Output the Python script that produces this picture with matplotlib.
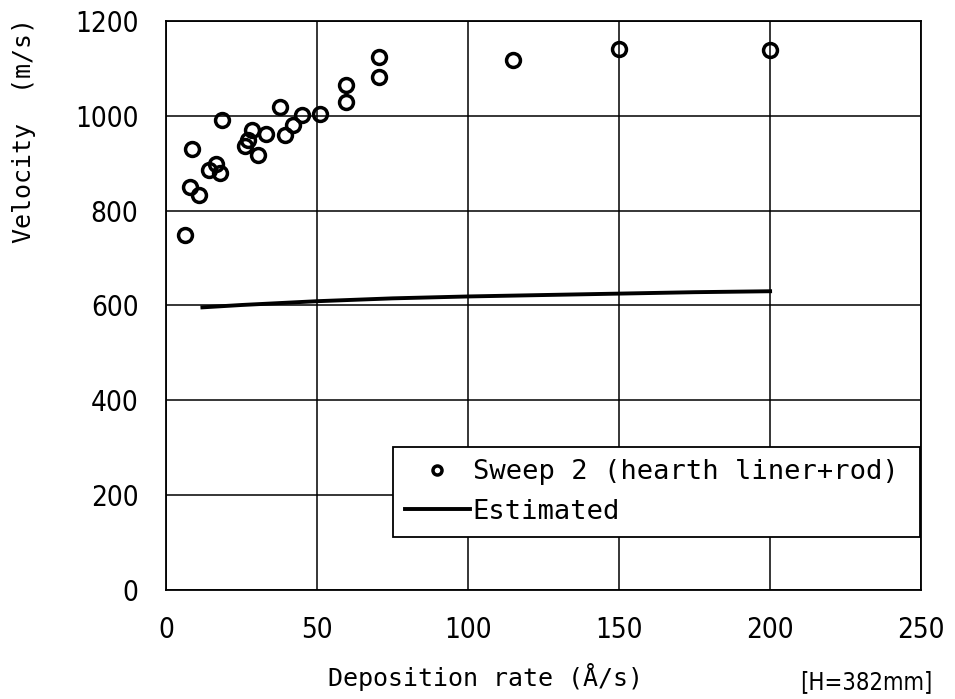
import matplotlib
matplotlib.use("Agg")
import matplotlib.pyplot as plt
from matplotlib import font_manager

# Data
sweep_x = [6.2, 7.8, 10.9, 8.7, 14.2, 16.6, 17.9, 18.5, 26.1, 27.2, 28.5, 30.5, 32.9,
           37.6, 39.4, 41.9, 45.1, 50.9, 59.4, 59.4, 70.5, 70.5, 115, 150, 200]
sweep_y = [748, 850, 833, 929, 886, 898, 880, 991, 937, 950, 971, 917, 962,
           1019, 960, 980, 1002, 1003, 1030, 1066, 1081, 1124, 1117, 1140, 1138]
est_x = [12, 25, 50, 75, 100, 125, 150, 175, 200]
est_y = [596, 601, 609, 615, 619, 622, 625, 628, 630]
xticks = [0, 50, 100, 150, 200, 250]
yticks = [0, 200, 400, 600, 800, 1000, 1200]

names = {f.name for f in font_manager.fontManager.ttflist}
mono = [f for f in ['DejaVu Sans Mono', 'Liberation Mono', 'DejaVu Sans'] if f in names]
plt.rcParams['font.family'] = ['DejaVu Sans']
plt.rcParams['font.stretch'] = 'condensed'

fig = plt.figure(figsize=(9.55, 6.99), dpi=100)
ax = fig.add_axes([0.174, 0.156, 0.7905, 0.814])

ax.plot(sweep_x, sweep_y, linestyle='none', marker='o', markersize=10,
        markerfacecolor='none', markeredgecolor='black', markeredgewidth=2.5,
        label='Sweep 2 (hearth liner+rod)', zorder=3)
ax.plot(est_x, est_y, color='black', linewidth=2.8, label='Estimated', zorder=3)

ax.set_xlim(0, 250)
ax.set_ylim(0, 1200)
ax.set_xticks(xticks)
ax.set_yticks(yticks)
ax.grid(True, color='black', linewidth=1.1)
ax.set_axisbelow(True)
for s in ax.spines.values():
    s.set_linewidth(1.3)
ax.tick_params(length=0, labelsize=20)
ax.tick_params(axis='y', pad=20)
ax.tick_params(axis='x', pad=19)

ax.set_xlabel('Deposition rate (Å/s)', fontsize=18, family=mono)
ax.xaxis.set_label_coords(0.4225, -0.128)
ax.set_ylabel('Velocity  (m/s)', fontsize=18, family=mono)
ax.yaxis.set_label_coords(-0.172, 0.807)
fig.text(0.907, 0.024, '[H=382mm]', fontsize=17, ha='center', va='center')

leg = ax.legend(loc='lower left', bbox_to_anchor=(0.30, 0.093, 0.699, 0.157),
                mode='expand', prop={'family': mono, 'size': 19.5},
                frameon=True, fancybox=False, edgecolor='black', framealpha=1,
                handlelength=2.4, handletextpad=0.1, borderpad=0.45,
                labelspacing=0.5, markerscale=0.65, borderaxespad=0)
leg.get_frame().set_linewidth(1.3)

fig.savefig('out.png', dpi=100)
